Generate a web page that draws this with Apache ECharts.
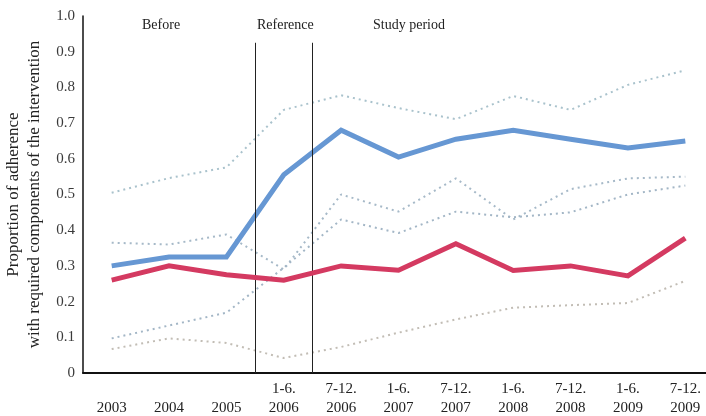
<!DOCTYPE html>
<html>
<head>
<meta charset="utf-8">
<script src="https://cdn.jsdelivr.net/npm/echarts@6/dist/echarts.min.js"></script>
<style>
  html, body { margin: 0; padding: 0; background: #fff; }
  #chart { width: 706px; height: 416px; }
</style>
</head>
<body>
<div id="chart"></div>
<script>
// Half-year / year periods on the x axis
const periods = ['\n2003', '\n2004', '\n2005', '1-6.\n2006', '7-12.\n2006', '1-6.\n2007',
                 '7-12.\n2007', '1-6.\n2008', '7-12.\n2008', '1-6.\n2009', '7-12.\n2009'];

// Proportion of adherence (main series)
const adherenceBlue = [0.30, 0.325, 0.325, 0.555, 0.68, 0.605, 0.655, 0.68, 0.655, 0.63, 0.65];
const adherenceRed  = [0.26, 0.30, 0.275, 0.26, 0.30, 0.288, 0.362, 0.287, 0.30, 0.272, 0.378];

// Dotted reference series
const dottedA = [0.505, 0.546, 0.576, 0.737, 0.778, 0.742, 0.711, 0.776, 0.737, 0.807, 0.848];
const dottedB = [0.365, 0.36, 0.388, 0.29, 0.50, 0.452, 0.545, 0.43, 0.515, 0.545, 0.55];
const dottedC = [0.097, 0.133, 0.169, 0.295, 0.43, 0.392, 0.452, 0.436, 0.45, 0.50, 0.525];
const dottedD = [0.067, 0.097, 0.084, 0.042, 0.073, 0.113, 0.15, 0.183, 0.19, 0.196, 0.258];

// Boundaries between the Before / Reference / Study period phases (in category units)
const phaseBoundaries = [2.5, 3.5];
const phaseLineTop = 0.925;

const serif = '"Liberation Serif", "DejaVu Serif", serif';
const textColor = '#222';

const chart = echarts.init(document.getElementById('chart'));

function dotted(name, data, color) {
  return {
    name: name, type: 'line', data: data, symbol: 'none', silent: true,
    lineStyle: { color: color, width: 2, type: [2, 4] }, z: 2
  };
}

chart.setOption({
  animation: false,
  backgroundColor: '#fff',
  grid: { left: 83, top: 16, width: 631, height: 357, outerBoundsMode: 'none', containLabel: false },
  xAxis: [
    {
      type: 'category', data: periods, boundaryGap: true,
      axisLine: { lineStyle: { color: '#111', width: 2 } },
      axisTick: { inside: true, length: 5, lineStyle: { color: '#111', width: 1.5 } },
      axisLabel: { fontFamily: serif, fontSize: 15, color: textColor, lineHeight: 19, margin: 7, interval: 0 },
      splitLine: { show: false }
    },
    {
      type: 'value', min: -0.5, max: 10.5, show: false, position: 'bottom'
    }
  ],
  yAxis: {
    type: 'value', min: 0, max: 1, interval: 0.1,
    name: 'Proportion of adherence\nwith required components of the intervention',
    nameLocation: 'middle', nameRotate: 90, nameGap: 33,
    nameTextStyle: { fontFamily: serif, fontSize: 17, color: textColor, lineHeight: 21 },
    axisLine: { show: true, onZero: false, lineStyle: { color: '#111', width: 1.5 } },
    axisTick: { show: false },
    splitLine: { show: false },
    axisLabel: {
      fontFamily: serif, fontSize: 15, color: '#3a3a3a', margin: 8,
      formatter: v => (v === 0 ? '0' : v.toFixed(1))
    }
  },
  graphic: [
    { type: 'text', left: 142, top: 18, style: { text: 'Before', font: '14px ' + serif, fill: textColor } },
    { type: 'text', left: 257, top: 18, style: { text: 'Reference', font: '14px ' + serif, fill: textColor } },
    { type: 'text', left: 373, top: 18, style: { text: 'Study period', font: '14px ' + serif, fill: textColor } }
  ],
  series: [
    dotted('A', dottedA, '#a9c2cc'),
    dotted('B', dottedB, '#a6b9c8'),
    dotted('C', dottedC, '#a3b6c6'),
    dotted('D', dottedD, '#c2bdb5'),
    {
      name: 'phases', type: 'line', xAxisIndex: 1, data: [], symbol: 'none', silent: true,
      markLine: {
        symbol: 'none', silent: true, label: { show: false },
        lineStyle: { color: '#222', width: 1, type: 'solid' },
        data: phaseBoundaries.map(b => [{ coord: [b, 0] }, { coord: [b, phaseLineTop] }])
      }
    },
    {
      name: 'blue', type: 'line', data: adherenceBlue, symbol: 'none', z: 4,
      lineStyle: { color: '#6697d3', width: 5, join: 'miter' }
    },
    {
      name: 'red', type: 'line', data: adherenceRed, symbol: 'none', z: 5,
      lineStyle: { color: '#d43a61', width: 5, join: 'miter' }
    }
  ]
});
</script>
</body>
</html>
